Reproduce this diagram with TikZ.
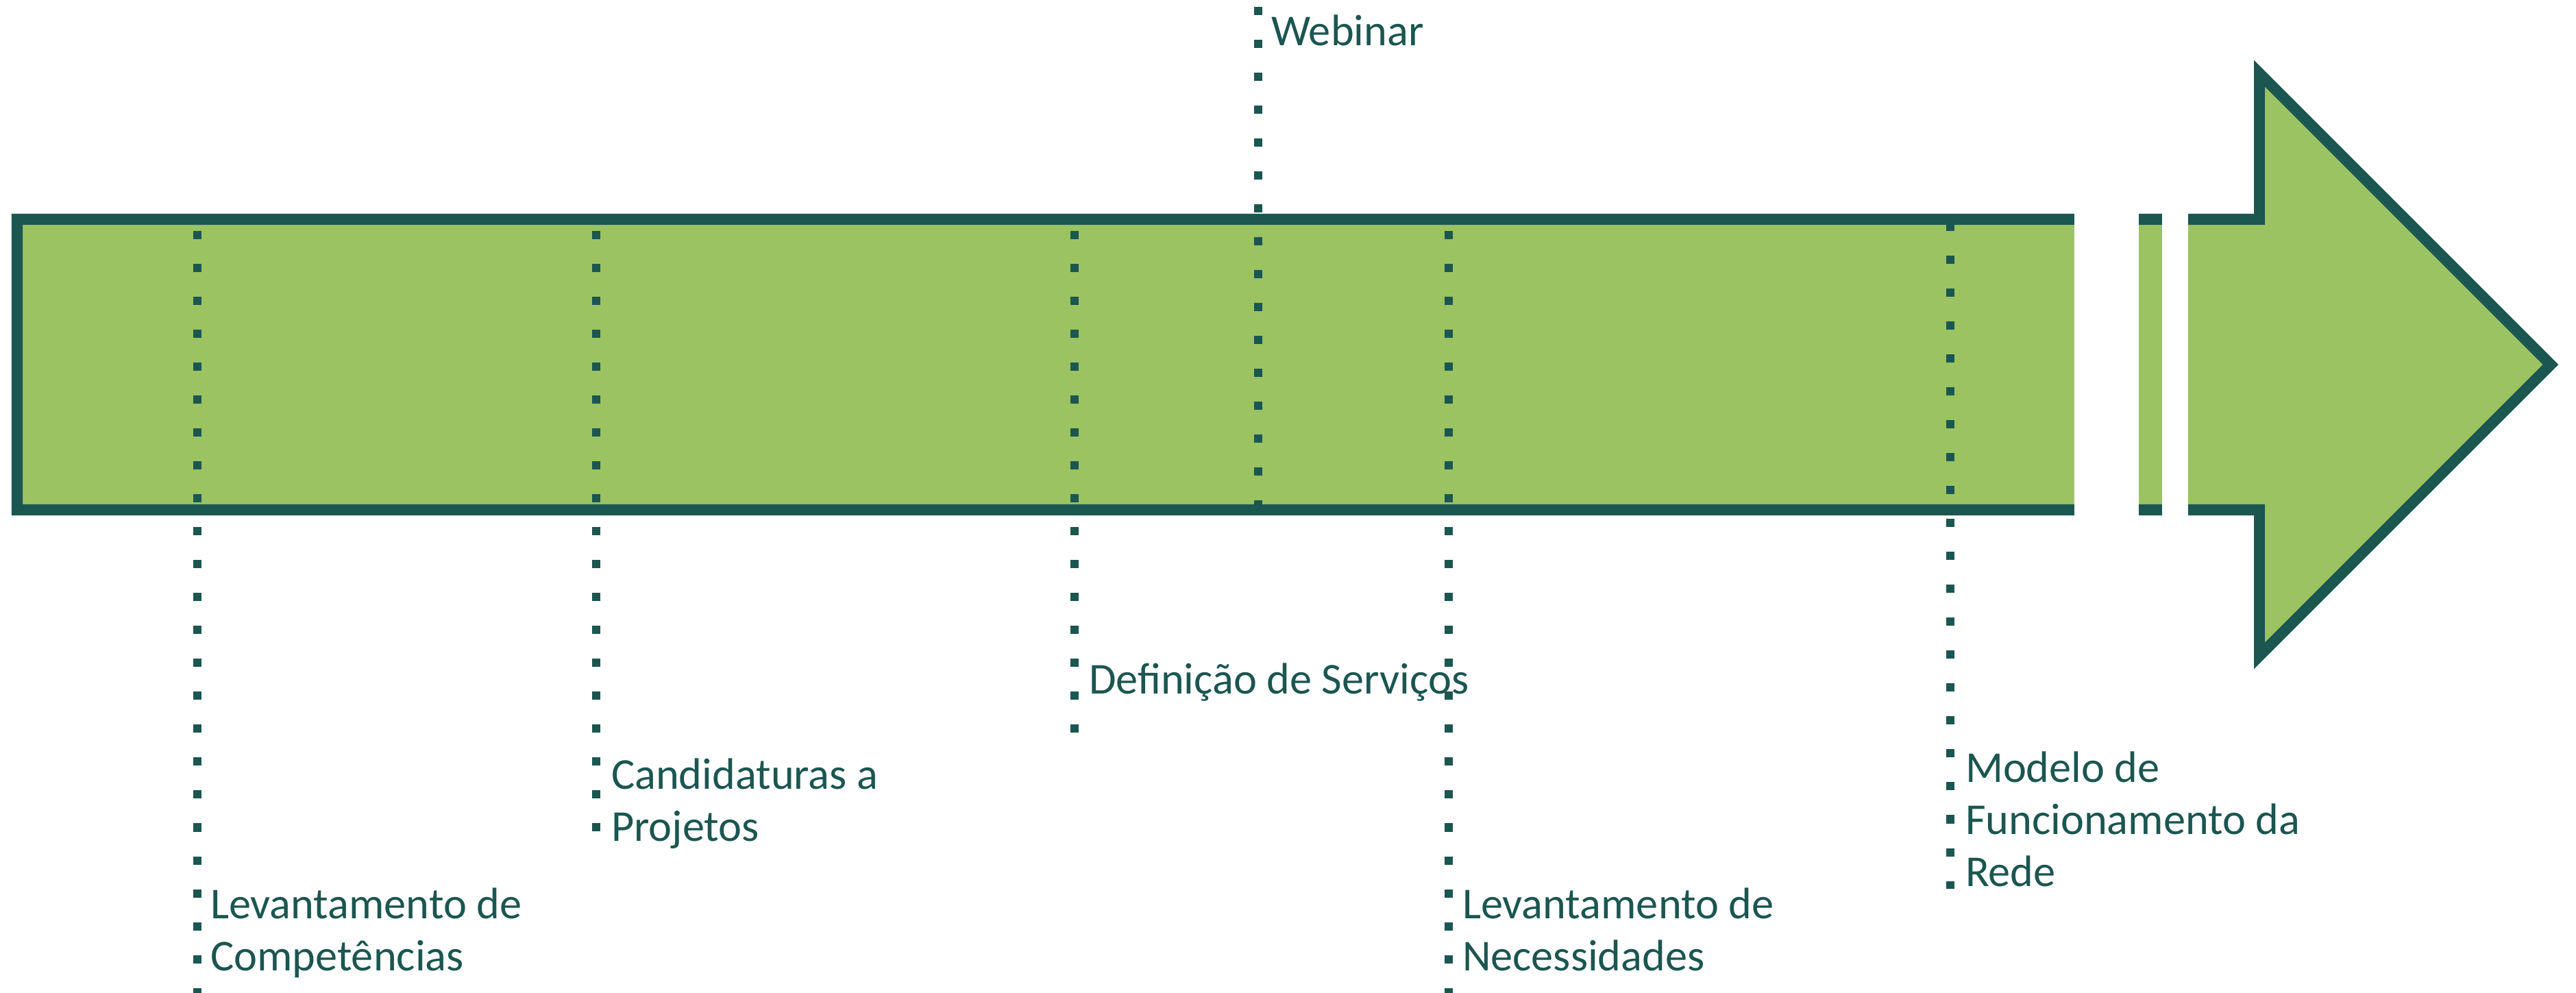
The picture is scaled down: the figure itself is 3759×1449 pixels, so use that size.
\documentclass[tikz,border=0pt]{standalone}
\usepackage{fontspec}
\setmainfont{Carlito}
\definecolor{dkgreen}{HTML}{1B5650}
\definecolor{ltgreen}{HTML}{9BC362}
\tikzset{
  arrowbody/.style={draw=dkgreen, fill=ltgreen, line width=0.16cm, miter limit=10},
  gapbox/.style={fill=white},
  dots/.style={draw=dkgreen, line width=0.12cm, dash pattern=on 0.12cm off 0.36cm},
  lbl/.style={text=dkgreen, inner sep=0pt, outer sep=0pt, anchor=base west, align=left,
    font=\fontsize{18.3pt}{21.6pt}\selectfont}
}
\begin{document}
\begin{tikzpicture}[x=0.01cm,y=-0.01cm]
\useasboundingbox (0,0) rectangle (3759,1449);
\begin{scope}
\clip (0,0) rectangle (3759,1449);
% arrow
\draw[arrowbody] (25,320) -- (3297,320) -- (3297,107) -- (3722,532) -- (3297,957) -- (3297,744) -- (25,744) -- cycle;
\fill[gapbox] (3027,300) rectangle (3121,770);
\fill[gapbox] (3155,300) rectangle (3193,770);
% dotted markers
\coordinate (a1) at (288,337);  \coordinate (b1) at (288,1470);
\coordinate (a2) at (870,337);  \coordinate (b2) at (870,1213);
\coordinate (a3) at (1568,337); \coordinate (b3) at (1568,1069);
\coordinate (a4) at (1836,10);  \coordinate (b4) at (1836,742);
\coordinate (a5) at (2114,337); \coordinate (b5) at (2114,1470);
\coordinate (a6) at (2846,325); \coordinate (b6) at (2846,1297);
\foreach \i in {1,...,6} {\draw[dots] (a\i) -- (b\i);}
\end{scope}
% labels (base anchor = baseline of the last line)
\node[lbl] (web) at (1855,67) {Webinar};
\node[lbl] (def) at (1589,1012) {Definição de Serviços};
\node[lbl] (cand) at (892,1227) {Candidaturas a\\Projetos};
\node[lbl] (levc) at (307,1416) {Levantamento de\\Competências};
\node[lbl] (levn) at (2134,1416) {Levantamento de\\Necessidades};
\node[lbl] (mod) at (2868,1293) {Modelo de\\Funcionamento da\\Rede};
\end{tikzpicture}
\end{document}
